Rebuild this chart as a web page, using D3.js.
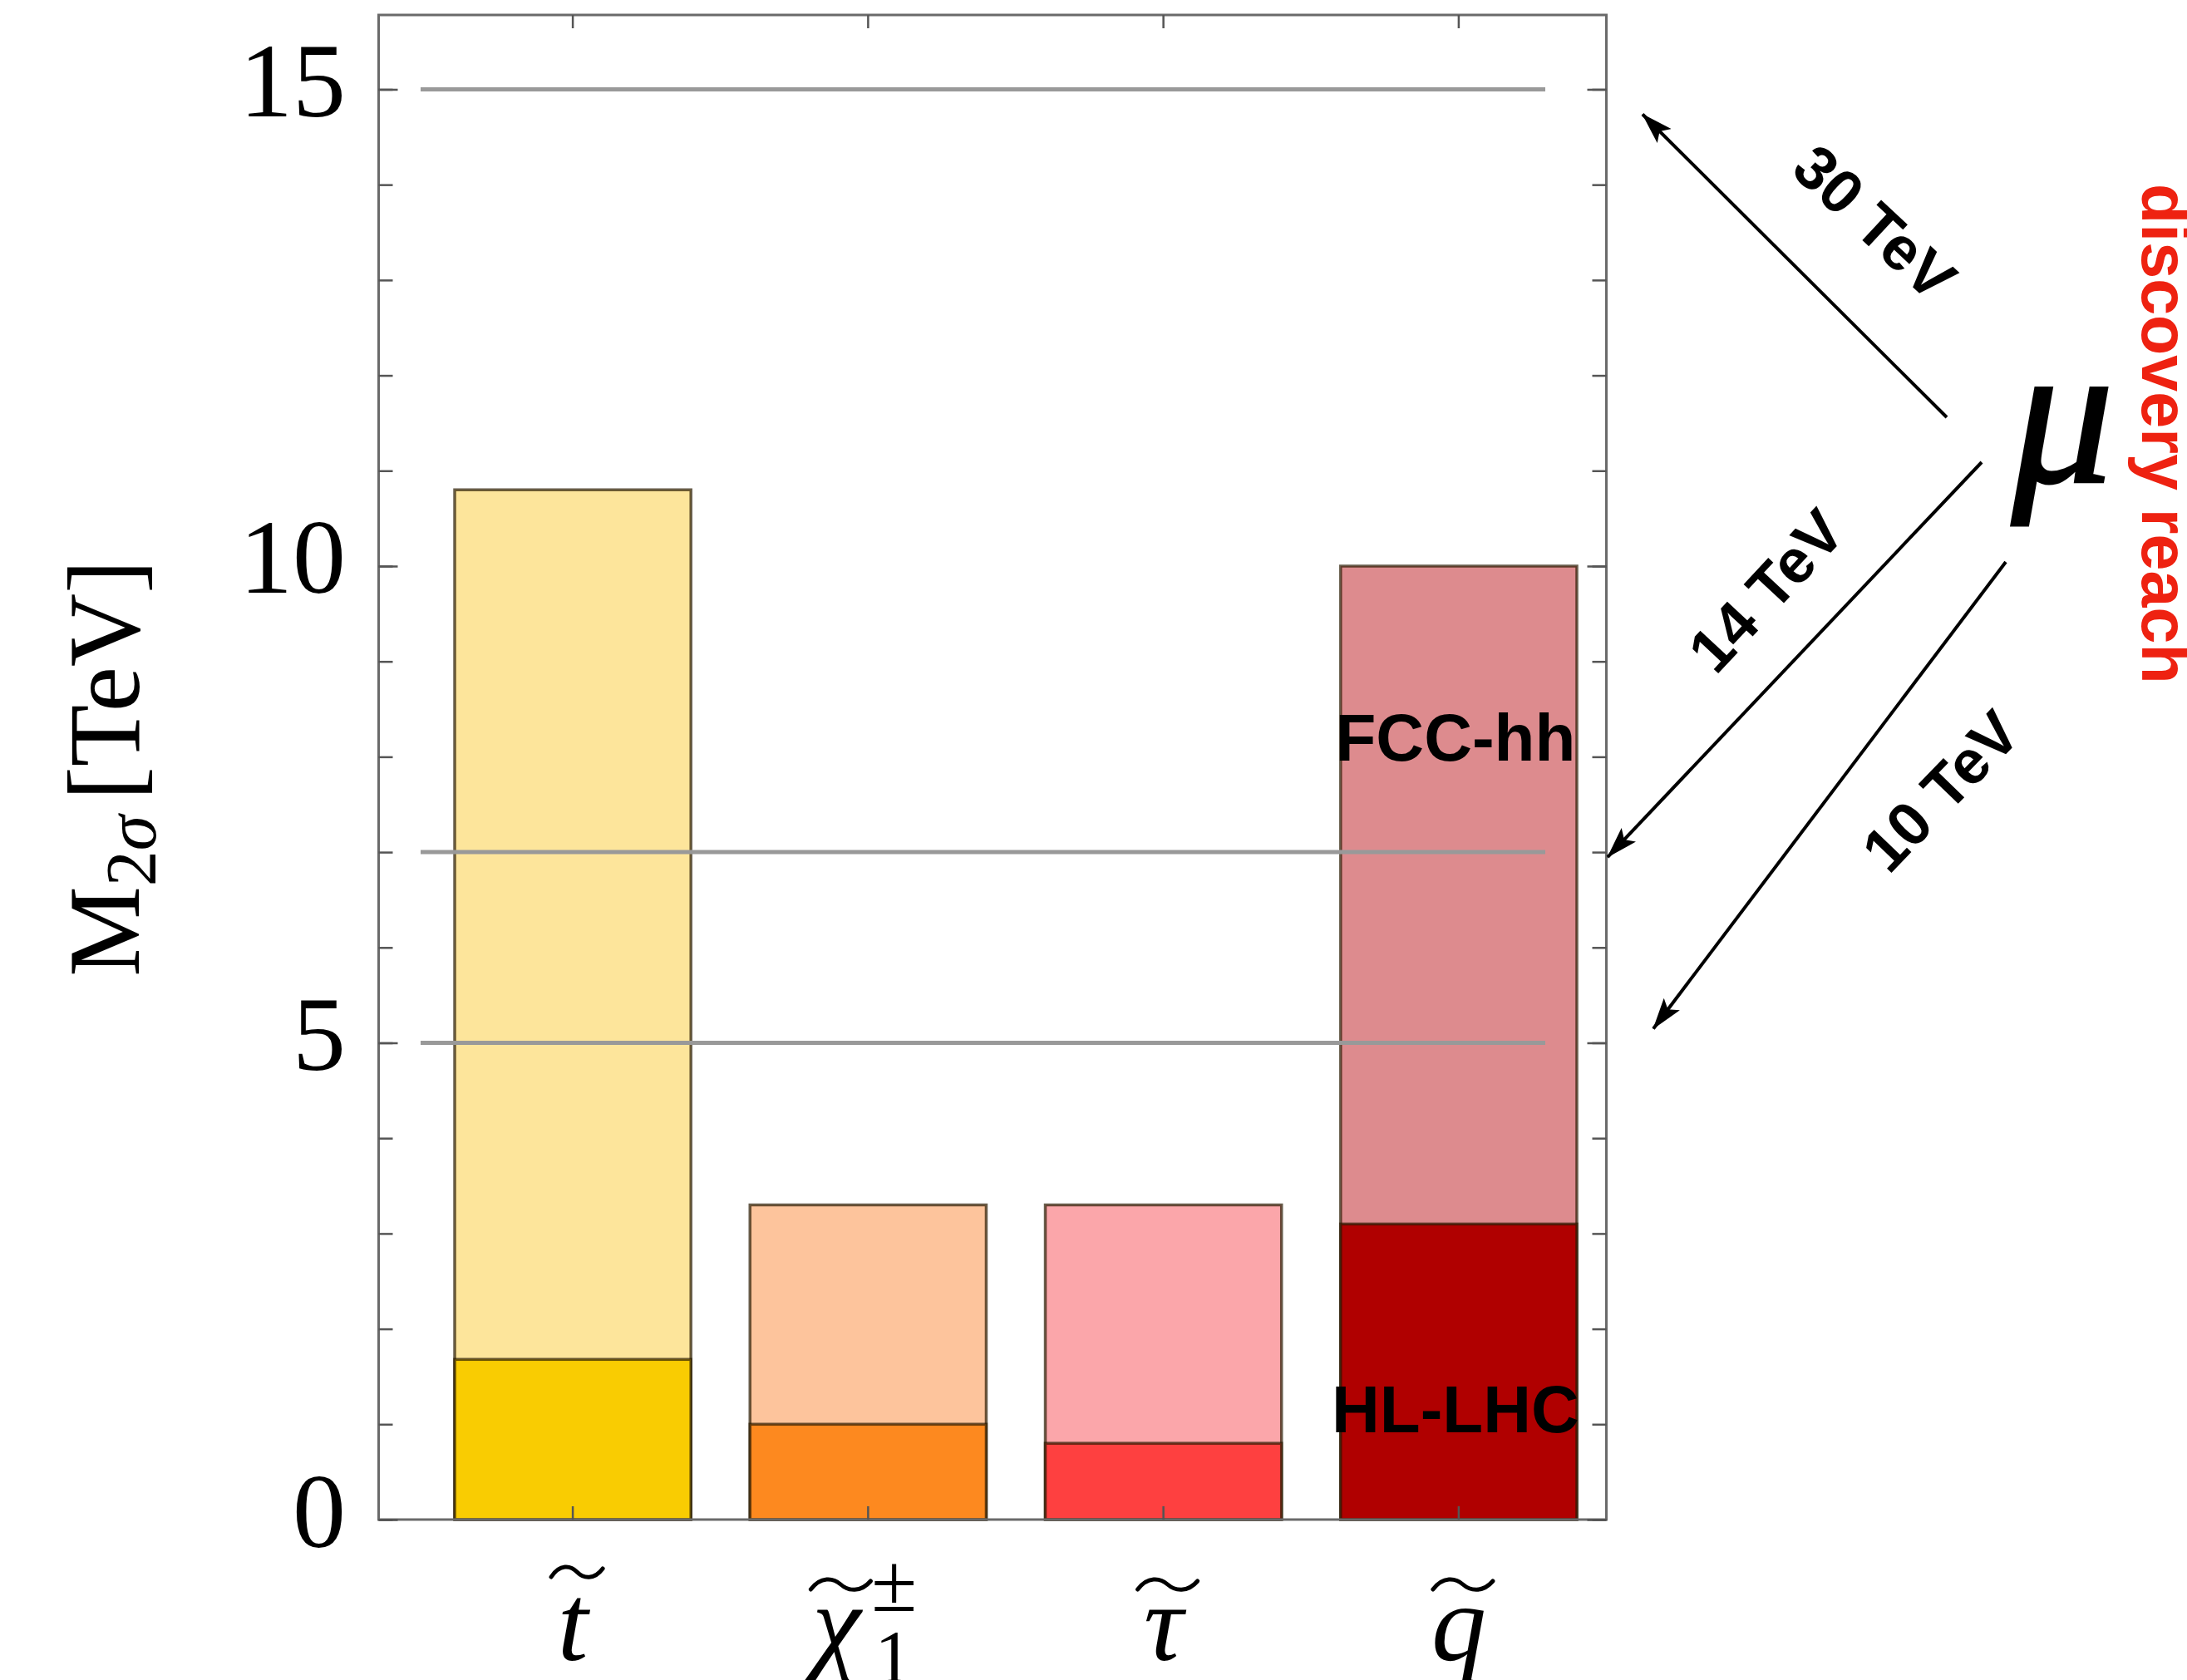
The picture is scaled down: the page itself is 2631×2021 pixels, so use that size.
<!DOCTYPE html>
<html><head><meta charset="utf-8">
<script src="https://cdn.jsdelivr.net/npm/d3@7"></script>
<style>html,body{margin:0;padding:0;background:#fff;} svg{display:block;}</style>
</head><body>
<script>
// ---------------- data ----------------
const categories   = ["t", "χ", "τ", "q"];
const categorySup  = ["", "±", "", ""];
const categorySub  = ["", "1", "", ""];
const hlLhcReach   = [1.68, 1.0, 0.8, 3.1];     // dark (HL-LHC) bars, TeV
const fccHhReach   = [10.8, 3.3, 3.3, 10.0];    // light (FCC-hh) bars, TeV
const lightColors  = ["#fde59b", "#fdc49c", "#fba6aa", "#dd8b8e"];
const darkColors   = ["#f9cc02", "#fd891f", "#fe4040", "#b00000"];
const muonEnergies = ["30 TeV", "14 TeV", "10 TeV"];
const muonReach    = [15, 7, 5];                // horizontal reference lines, TeV
const yMajorTicks  = [0, 5, 10, 15];
const yMinorTicks  = d3.range(0, 16);
const yDomainMax   = 15.78;

// ---------------- layout ----------------
const W = 2631, H = 2021;
const P = {left: 455.5, right: 1932.5, top: 18, bottom: 1828};
const serif = "'Liberation Serif','Times New Roman',serif";
const sans  = "'Liberation Sans',Arial,Helvetica,sans-serif";

const svg = d3.select("body").append("svg").attr("width", W).attr("height", H);

const y = d3.scaleLinear().domain([0, yDomainMax]).range([P.bottom, P.top]);
const x = d3.scaleBand().domain(categories).range([547, 1897]).paddingInner(0.2).paddingOuter(0);
const bw = x.bandwidth();

// bars
const rows = categories.map((c, i) => ({c, i, hl: hlLhcReach[i], fcc: fccHhReach[i]}));
const bars = svg.append("g");
bars.selectAll("rect.fcc").data(rows).join("rect").attr("class", "fcc")
  .attr("x", d => x(d.c)).attr("width", bw)
  .attr("y", d => y(d.fcc)).attr("height", d => y(0) - y(d.fcc))
  .attr("fill", d => lightColors[d.i])
  .attr("stroke", "rgba(40,25,0,0.7)").attr("stroke-width", 3.5);
bars.selectAll("rect.hl").data(rows).join("rect").attr("class", "hl")
  .attr("x", d => x(d.c)).attr("width", bw)
  .attr("y", d => y(d.hl)).attr("height", d => y(0) - y(d.hl))
  .attr("fill", d => darkColors[d.i])
  .attr("stroke", "rgba(40,25,0,0.7)").attr("stroke-width", 3.5);

// reference lines
svg.append("g").selectAll("line").data(muonReach).join("line")
  .attr("x1", 506).attr("x2", 1859)
  .attr("y1", d => y(d)).attr("y2", d => y(d))
  .attr("stroke", "#999").attr("stroke-width", 5);

// frame
svg.append("rect").attr("x", P.left).attr("y", P.top)
  .attr("width", P.right - P.left).attr("height", P.bottom - P.top)
  .attr("fill", "none").attr("stroke", "#6a6a6a").attr("stroke-width", 3);

function styleTicks(g) {
  g.select(".domain").remove();
  g.selectAll("line").attr("stroke", "#555").attr("stroke-width", 2.5);
}
// left ticks (inward)
svg.append("g").attr("transform", `translate(${P.left},0)`)
  .call(d3.axisRight(y).tickValues(yMinorTicks).tickSize(17).tickFormat("")).call(styleTicks);
svg.append("g").attr("transform", `translate(${P.left},0)`)
  .call(d3.axisRight(y).tickValues(yMajorTicks).tickSize(23).tickFormat("")).call(styleTicks);
// right ticks (inward)
svg.append("g").attr("transform", `translate(${P.right},0)`)
  .call(d3.axisLeft(y).tickValues(yMinorTicks).tickSize(17).tickFormat("")).call(styleTicks);
svg.append("g").attr("transform", `translate(${P.right},0)`)
  .call(d3.axisLeft(y).tickValues(yMajorTicks).tickSize(23).tickFormat("")).call(styleTicks);
// top / bottom ticks at category centres
svg.append("g").attr("transform", `translate(0,${P.top})`)
  .call(d3.axisBottom(x).tickSize(16).tickFormat("")).call(styleTicks);
svg.append("g").attr("transform", `translate(0,${P.bottom})`)
  .call(d3.axisTop(x).tickSize(16).tickFormat("")).call(styleTicks);

// y tick labels
svg.append("g").attr("transform", "translate(416,0)")
  .call(d3.axisLeft(y).tickValues(yMajorTicks).tickSize(0).tickPadding(0).tickFormat(d3.format("d")))
  .call(g => g.select(".domain").remove())
  .call(g => g.selectAll("text").attr("font-family", serif).attr("font-size", 128).attr("dy", "0.25em"));

// y axis title
const yt = svg.append("text").attr("transform", "translate(167,924) rotate(-90)")
  .attr("text-anchor", "middle").attr("font-family", serif).attr("font-size", 122).attr("fill", "#000");
yt.append("tspan").text("M");
yt.append("tspan").attr("font-size", 86).attr("dy", 20).text("2");
yt.append("tspan").attr("font-size", 86).attr("font-style", "italic").text("σ");
yt.append("tspan").attr("dy", -20).attr("dx", 18).text("[TeV]");

// x category labels with wide tilde
const xl = svg.append("g");
const labelOffset = [0, -38, 0, 0];
rows.forEach(d => {
  const cx = x(d.c) + bw / 2 + labelOffset[d.i];
  xl.append("text").attr("x", cx).attr("y", 1997).attr("text-anchor", "middle")
    .attr("font-family", serif).attr("font-style", "italic").attr("font-size", 132).text(d.c);
  if (categorySup[d.i]) {
    xl.append("text").attr("x", cx + 42).attr("y", 1938).attr("font-family", serif)
      .attr("font-size", 100).text(categorySup[d.i]);
  }
  if (categorySub[d.i]) {
    xl.append("text").attr("x", cx + 46).attr("y", 2024).attr("font-family", serif)
      .attr("font-size", 90).text(categorySub[d.i]);
  }
  const ty = d.c === "t" ? 1891 : 1906;
  const w = d.c === "t" ? 62 : 72;
  const tx = cx + 5;
  const p = d3.path();
  p.moveTo(tx - w / 2, ty + 6);
  p.bezierCurveTo(tx - w / 3, ty - 10, tx - w / 8, ty - 8, tx, ty);
  p.bezierCurveTo(tx + w / 8, ty + 8, tx + w / 3, ty + 10, tx + w / 2, ty - 4);
  xl.append("path").attr("d", p.toString()).attr("fill", "none")
    .attr("stroke", "#000").attr("stroke-width", 5).attr("stroke-linecap", "round");
});

// in-bar labels
const qx = x("q") + bw / 2 - 4;
svg.append("text").attr("x", qx).attr("y", 915).attr("text-anchor", "middle")
  .attr("font-family", sans).attr("font-weight", "bold").attr("font-size", 80).text("FCC-hh");
svg.append("text").attr("x", qx).attr("y", 1723).attr("text-anchor", "middle")
  .attr("font-family", sans).attr("font-weight", "bold").attr("font-size", 80).text("HL-LHC");

// arrows for muon collider
const defs = svg.append("defs");
defs.append("marker").attr("id", "ah").attr("markerUnits", "userSpaceOnUse")
  .attr("viewBox", "0 0 38 24").attr("refX", 37).attr("refY", 12)
  .attr("markerWidth", 38).attr("markerHeight", 24).attr("orient", "auto")
  .append("path").attr("d", "M0,0 L38,12 L0,24 L8,12 Z").attr("fill", "#000");

const arrowTail = [[2342, 502], [2384, 556], [2413, 676]];
const arrowHeadX = [1976, 1934, 1989];
const arrowHeadDy = [30, 6, -17];
const arrowText = [[2256, 267, 43], [2124, 710, -47], [2334, 951, -46]];
muonEnergies.forEach((lab, i) => {
  svg.append("line")
    .attr("x1", arrowTail[i][0]).attr("y1", arrowTail[i][1])
    .attr("x2", arrowHeadX[i]).attr("y2", y(muonReach[i]) + arrowHeadDy[i])
    .attr("stroke", "#000").attr("stroke-width", 4).attr("marker-end", "url(#ah)");
  svg.append("text")
    .attr("transform", `translate(${arrowText[i][0]},${arrowText[i][1]}) rotate(${arrowText[i][2]})`)
    .attr("text-anchor", "middle").attr("dy", "0.36em")
    .attr("font-family", sans).attr("font-weight", "bold").attr("font-size", 74).text(lab);
});

svg.append("text").attr("x", 2420).attr("y", 580)
  .attr("font-family", serif).attr("font-style", "italic").attr("font-size", 245)
  .attr("stroke", "#000").attr("stroke-width", 3).text("μ");

svg.append("text").attr("transform", "translate(2577,221) rotate(90)")
  .attr("font-family", sans).attr("font-weight", "bold").attr("font-size", 79)
  .attr("fill", "#ee2211").text("discovery reach");
</script>
</body></html>
